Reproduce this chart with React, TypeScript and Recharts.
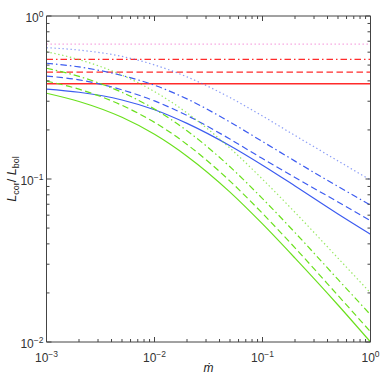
import { LineChart, Line, XAxis, YAxis, ReferenceLine } from "recharts";

const mdot = [0.001, 0.002, 0.005, 0.01, 0.02, 0.05, 0.1, 0.2, 0.5, 1];

const blueSolid = [0.356, 0.3405, 0.3053, 0.2661, 0.2194, 0.16, 0.1215, 0.0906, 0.061, 0.0458];
const blueDashed = [0.428, 0.4055, 0.3525, 0.3013, 0.2453, 0.1757, 0.1334, 0.1021, 0.0723, 0.0555];
const blueDashDot = [0.513, 0.487, 0.4315, 0.3759, 0.31, 0.2234, 0.1697, 0.1287, 0.0899, 0.0692];
const blueDotted = [0.639, 0.618, 0.565, 0.501, 0.423, 0.316, 0.2434, 0.1849, 0.1291, 0.0986];

const greenSolid = [0.336, 0.299, 0.239, 0.188, 0.138, 0.0831, 0.053, 0.0327, 0.01687, 0.01];
const greenDashed = [0.399, 0.3556, 0.283, 0.2225, 0.163, 0.0971, 0.0615, 0.0378, 0.0193, 0.01156];
const greenDashDot = [0.478, 0.426, 0.34, 0.2684, 0.1976, 0.1188, 0.0758, 0.0469, 0.0242, 0.0147];
const greenDotted = [0.604, 0.54, 0.434, 0.3437, 0.2543, 0.1547, 0.0997, 0.0624, 0.0327, 0.02];

// constant (red) levels: solid, dashed, dash-dot, dotted
const redLevels = [0.384, 0.453, 0.542, 0.673];

const xMajor = [0.001, 0.01, 0.1, 1];
const yMajor = [0.01, 0.1, 1];

const RED = "#ff2b2b";
const PINK = "#f060c8";
const BLUE = "#3d5cf0";
const GREEN = "#6be01e";
const AXIS = "#444";
const FONT = "'Liberation Sans', Arial, sans-serif";

const DASH = "6.5 3.5";
const DASHDOT = "6.5 3 1.5 3";
const DOT = "1.4 2.6";

const data = mdot.map((m, i) => ({
  m,
  bSolid: blueSolid[i],
  bDashed: blueDashed[i],
  bDashDot: blueDashDot[i],
  bDotted: blueDotted[i],
  gSolid: greenSolid[i],
  gDashed: greenDashed[i],
  gDashDot: greenDashDot[i],
  gDotted: greenDotted[i],
}));

const withMinor = (majors: number[]) => {
  const out: number[] = [];
  majors.forEach((d, i) => {
    if (i === majors.length - 1) {
      out.push(d);
      return;
    }
    for (let k = 1; k < 10; k++) out.push(d * k);
  });
  return out;
};

const xTicks = withMinor(xMajor);
const yTicks = withMinor(yMajor);

const isMajor = (v: number) => Math.abs(Math.log10(v) - Math.round(Math.log10(v))) < 1e-6;

function Pow({ v }: { v: number }) {
  const e = Math.round(Math.log10(v));
  return (
    <>
      <tspan>10</tspan>
      <tspan dy={-5} fontSize={8.5}>{e < 0 ? "\u2212" + -e : String(e)}</tspan>
    </>
  );
}

function BottomTick(props: any) {
  const { x, y, payload } = props;
  const major = isMajor(payload.value);
  return (
    <g>
      <line x1={x} x2={x} y1={y} y2={y - (major ? 5 : 3)} stroke={AXIS} />
      {major && (
        <text x={x} y={y + 20} textAnchor="middle" fontSize={12} fill="#333" fontFamily={FONT}>
          <Pow v={payload.value} />
        </text>
      )}
    </g>
  );
}

function TopTick(props: any) {
  const { x, y, payload } = props;
  const major = isMajor(payload.value);
  return <line x1={x} x2={x} y1={y} y2={y + (major ? 5 : 3)} stroke={AXIS} />;
}

function LeftTick(props: any) {
  const { x, y, payload } = props;
  const major = isMajor(payload.value);
  return (
    <g>
      <line x1={x} x2={x + (major ? 5 : 3)} y1={y} y2={y} stroke={AXIS} />
      {major && (
        <text x={x - 3} y={y + 5.5} textAnchor="end" fontSize={12} fill="#333" fontFamily={FONT}>
          <Pow v={payload.value} />
        </text>
      )}
    </g>
  );
}

function RightTick(props: any) {
  const { x, y, payload } = props;
  const major = isMajor(payload.value);
  return <line x1={x} x2={x - (major ? 5 : 3)} y1={y} y2={y} stroke={AXIS} />;
}

function YTitle(props: any) {
  const vb = props.viewBox || { y: 16, height: 326 };
  const cy = vb.y + vb.height / 2;
  return (
    <text transform={`translate(16, ${cy}) rotate(-90)`} textAnchor="middle" fontSize={12.5} fill="#222" fontFamily={FONT}>
      <tspan fontStyle="italic">L</tspan>
      <tspan dy={3} fontSize={9}>cor</tspan>
      <tspan dy={-3}>/ </tspan>
      <tspan fontStyle="italic">L</tspan>
      <tspan dy={3} fontSize={9}>bol</tspan>
    </text>
  );
}

function XTitle(props: any) {
  const vb = props.viewBox || { x: 46, width: 324 };
  return (
    <text x={vb.x + vb.width / 2} y={372} textAnchor="middle" fontSize={12} fontStyle="italic" fill="#222" fontFamily={FONT}>
      {"\u1E41"}
    </text>
  );
}

const series = [
  { key: "bSolid", color: BLUE, dash: undefined, op: 1 },
  { key: "bDashed", color: BLUE, dash: DASH, op: 1 },
  { key: "bDashDot", color: BLUE, dash: DASHDOT, op: 1 },
  { key: "bDotted", color: BLUE, dash: DOT, op: 0.6 },
  { key: "gSolid", color: GREEN, dash: undefined, op: 1 },
  { key: "gDashed", color: GREEN, dash: DASH, op: 1 },
  { key: "gDashDot", color: GREEN, dash: DASHDOT, op: 1 },
  { key: "gDotted", color: GREEN, dash: DOT, op: 0.7 },
];

const redStyles = [
  { color: RED, dash: undefined, op: 1 },
  { color: RED, dash: DASH, op: 1 },
  { color: RED, dash: DASHDOT, op: 1 },
  { color: PINK, dash: DOT, op: 0.6 },
];

export default function App() {
  return (
    <div style={{ position: "absolute", left: 0, top: 0, width: 382, height: 382, background: "#fff" }}>
      <LineChart width={382} height={382} data={data} margin={{ top: 0, right: 0, bottom: 0, left: 0 }}>
        <XAxis
          xAxisId="b"
          dataKey="m"
          type="number"
          scale="log"
          domain={[0.001, 1]}
          allowDataOverflow
          ticks={xTicks}
          interval={0}
          height={40}
          tickSize={0}
          tickMargin={0}
          tickLine={false}
          axisLine={{ stroke: AXIS }}
          tick={(p: any) => <BottomTick {...p} />}
          label={<XTitle />}
        />
        <XAxis
          xAxisId="t"
          orientation="top"
          dataKey="m"
          type="number"
          scale="log"
          domain={[0.001, 1]}
          allowDataOverflow
          ticks={xTicks}
          interval={0}
          height={16}
          tickSize={0}
          tickMargin={0}
          tickLine={false}
          axisLine={{ stroke: AXIS }}
          tick={(p: any) => <TopTick {...p} />}
        />
        <YAxis
          yAxisId="l"
          type="number"
          scale="log"
          domain={[0.01, 1]}
          allowDataOverflow
          ticks={yTicks}
          interval={0}
          width={46.5}
          tickSize={0}
          tickMargin={0}
          tickLine={false}
          axisLine={{ stroke: AXIS }}
          tick={(p: any) => <LeftTick {...p} />}
          label={<YTitle />}
        />
        <YAxis
          yAxisId="r"
          orientation="right"
          type="number"
          scale="log"
          domain={[0.01, 1]}
          allowDataOverflow
          ticks={yTicks}
          interval={0}
          width={11.5}
          tickSize={0}
          tickMargin={0}
          tickLine={false}
          axisLine={{ stroke: AXIS }}
          tick={(p: any) => <RightTick {...p} />}
        />
        {redLevels.map((v, i) => (
          <ReferenceLine
            key={"r" + i}
            xAxisId="b"
            yAxisId="l"
            y={v}
            stroke={redStyles[i].color}
            strokeWidth={1.3}
            strokeDasharray={redStyles[i].dash}
            strokeOpacity={redStyles[i].op}
          />
        ))}
        {series.map((s) => (
          <Line
            key={s.key}
            xAxisId="b"
            yAxisId="l"
            dataKey={s.key}
            type="monotone"
            stroke={s.color}
            strokeWidth={1.2}
            strokeDasharray={s.dash}
            strokeOpacity={s.op}
            dot={false}
            activeDot={false}
            isAnimationActive={false}
          />
        ))}
      </LineChart>
    </div>
  );
}
